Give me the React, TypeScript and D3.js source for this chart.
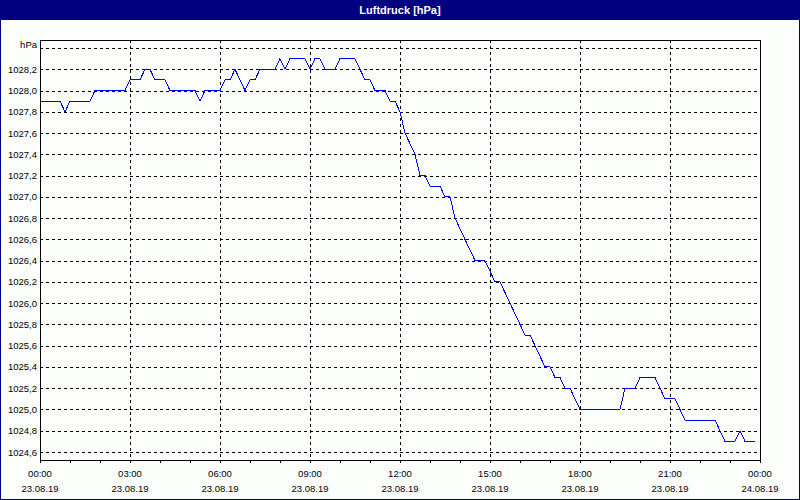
import React, { useEffect, useRef } from "react";
import * as d3 from "d3";

// Luftdruck, 10-minute samples from 23.08.19 00:00 to 23:50
const pressure = [
  1027.9, 1027.9, 1027.9, 1027.9, 1027.9, 1027.8, 1027.9, 1027.9, 1027.9, 1027.9, 1027.9, 1028.0,
  1028.0, 1028.0, 1028.0, 1028.0, 1028.0, 1028.0, 1028.1, 1028.1, 1028.1, 1028.2, 1028.2, 1028.1,
  1028.1, 1028.1, 1028.0, 1028.0, 1028.0, 1028.0, 1028.0, 1028.0, 1027.9, 1028.0, 1028.0, 1028.0,
  1028.0, 1028.1, 1028.1, 1028.2, 1028.1, 1028.0, 1028.1, 1028.1, 1028.2, 1028.2, 1028.2, 1028.2,
  1028.3, 1028.2, 1028.3, 1028.3, 1028.3, 1028.3, 1028.2, 1028.3, 1028.3, 1028.2, 1028.2, 1028.2,
  1028.3, 1028.3, 1028.3, 1028.3, 1028.2, 1028.1, 1028.1, 1028.0, 1028.0, 1028.0, 1027.9, 1027.9,
  1027.8, 1027.6, 1027.5, 1027.4, 1027.2, 1027.2, 1027.1, 1027.1, 1027.1, 1027.0, 1027.0, 1026.8,
  1026.7, 1026.6, 1026.5, 1026.4, 1026.4, 1026.4, 1026.3, 1026.2, 1026.2, 1026.1, 1026.0, 1025.9,
  1025.8, 1025.7, 1025.7, 1025.6, 1025.5, 1025.4, 1025.4, 1025.3, 1025.3, 1025.2, 1025.2, 1025.1,
  1025.0, 1025.0, 1025.0, 1025.0, 1025.0, 1025.0, 1025.0, 1025.0, 1025.0, 1025.2, 1025.2, 1025.2,
  1025.3, 1025.3, 1025.3, 1025.3, 1025.2, 1025.1, 1025.1, 1025.1, 1025.0, 1024.9, 1024.9, 1024.9,
  1024.9, 1024.9, 1024.9, 1024.9, 1024.8, 1024.7, 1024.7, 1024.7, 1024.8, 1024.7, 1024.7, 1024.7,
];
const SAMPLE_MINUTES = 10;

const yGrid = [1024.6, 1024.8, 1025.0, 1025.2, 1025.4, 1025.6, 1025.8, 1026.0, 1026.2, 1026.4,
  1026.6, 1026.8, 1027.0, 1027.2, 1027.4, 1027.6, 1027.8, 1028.0, 1028.2, 1028.4];
const yLabelled = yGrid.slice(0, -1);

const xMajor = [0, 3, 6, 9, 12, 15, 18, 21, 24];
const xMinor = [1, 2, 4, 5, 7, 8, 10, 11, 13, 14, 16, 17, 19, 20, 22, 23];
const xTimes = ["00:00", "03:00", "06:00", "09:00", "12:00", "15:00", "18:00", "21:00", "00:00"];
const xDates = ["23.08.19", "23.08.19", "23.08.19", "23.08.19", "23.08.19", "23.08.19", "23.08.19", "23.08.19", "24.08.19"];

const W = 800;
const H = 500;
const NAVY = "#000080";
const FONT = "'Liberation Sans', Arial, sans-serif";

export default function App() {
  const svgRef = useRef<SVGSVGElement>(null);

  useEffect(() => {
    if (!svgRef.current) return;
    const svg = d3.select(svgRef.current);
    svg.selectAll("*").remove();

    const plot = { left: 40, right: 760, top: 40, bottom: 460 };
    const x = d3.scaleLinear().domain([0, 24]).range([plot.left, plot.right]);
    const y = d3.scaleLinear().domain([1024.6, 1028.4]).range([452, 48]);

    // window frame + title bar
    svg.append("rect").attr("x", 0.5).attr("y", 0.5).attr("width", W - 1).attr("height", H - 1)
      .attr("fill", "#fcfefc").attr("stroke", NAVY).attr("stroke-width", 1);
    svg.append("rect").attr("x", 0).attr("y", 0).attr("width", W).attr("height", 20).attr("fill", NAVY);
    svg.append("text").attr("x", W / 2).attr("y", 14).attr("text-anchor", "middle")
      .attr("fill", "#ffffff").style("font-family", FONT).style("font-size", "11px").style("font-weight", "bold")
      .text("Luftdruck [hPa]");

    const g = svg.append("g").attr("shape-rendering", "crispEdges");

    // horizontal grid
    g.selectAll("line.hgrid").data(yGrid).join("line")
      .attr("x1", plot.left).attr("x2", plot.right)
      .attr("y1", d => Math.round(y(d)) + 0.5).attr("y2", d => Math.round(y(d)) + 0.5)
      .attr("stroke", "#000").attr("stroke-dasharray", "3,3");

    // vertical grid
    g.selectAll("line.vgrid").data(xMajor.slice(1, -1)).join("line")
      .attr("x1", d => Math.round(x(d)) + 0.5).attr("x2", d => Math.round(x(d)) + 0.5)
      .attr("y1", plot.top).attr("y2", plot.bottom)
      .attr("stroke", "#000").attr("stroke-dasharray", "3,3");

    // plot box
    g.append("rect").attr("x", plot.left + 0.5).attr("y", plot.top + 0.5)
      .attr("width", plot.right - plot.left).attr("height", plot.bottom - plot.top)
      .attr("fill", "none").attr("stroke", "#000");

    // x ticks
    g.selectAll("line.tick").data([...xMajor, ...xMinor]).join("line")
      .attr("x1", d => Math.round(x(d)) + 0.5).attr("x2", d => Math.round(x(d)) + 0.5)
      .attr("y1", plot.bottom).attr("y2", plot.bottom + 3)
      .attr("stroke", "#000");

    // pressure line
    const line = d3.line<number>()
      .x((_, i) => x((i * SAMPLE_MINUTES) / 60))
      .y(d => y(d));
    g.append("path").datum(pressure).attr("d", line)
      .attr("fill", "none").attr("stroke", "#0000ff").attr("stroke-width", 1);

    // y labels
    const fmt = d3.format(".1f");
    svg.selectAll("text.ylab").data(yLabelled).join("text")
      .attr("x", 37).attr("y", d => y(d) + 3.5).attr("text-anchor", "end")
      .attr("fill", "#000").style("font-family", FONT).style("font-size", "9.5px")
      .text(d => fmt(d).replace(".", ","));
    svg.append("text").attr("x", 37).attr("y", 47.5).attr("text-anchor", "end")
      .attr("fill", "#000").style("font-family", FONT).style("font-size", "9.5px").text("hPa");

    // x labels
    svg.selectAll("text.xtime").data(xMajor).join("text")
      .attr("x", d => x(d)).attr("y", 477).attr("text-anchor", "middle")
      .attr("fill", "#000").style("font-family", FONT).style("font-size", "9.5px")
      .text((_, i) => xTimes[i]);
    svg.selectAll("text.xdate").data(xMajor).join("text")
      .attr("x", d => x(d)).attr("y", 492).attr("text-anchor", "middle")
      .attr("fill", "#000").style("font-family", FONT).style("font-size", "9.5px")
      .text((_, i) => xDates[i]);
  }, []);

  return (
    <svg ref={svgRef} width={W} height={H}
      style={{ position: "absolute", left: 0, top: 0, display: "block" }} />
  );
}
